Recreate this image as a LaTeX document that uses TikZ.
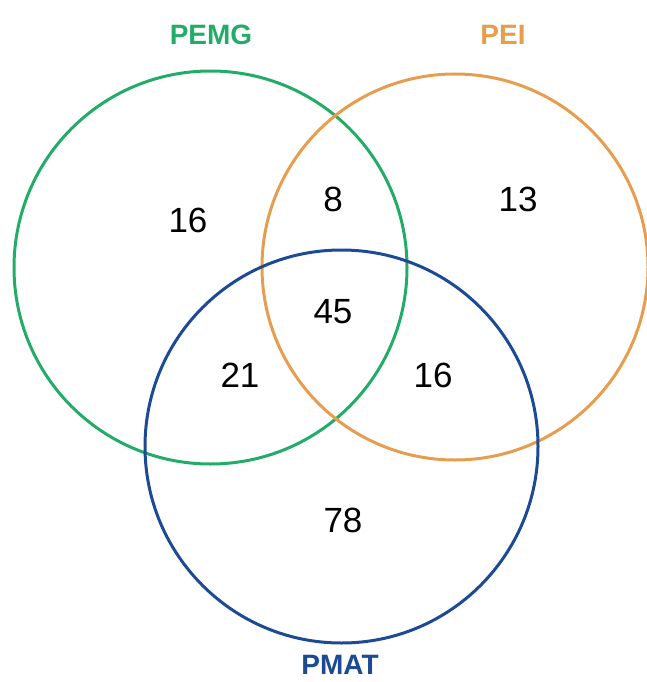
\documentclass[tikz,border=0pt]{standalone}
\usepackage{fontspec}
\setmainfont{Liberation Sans}
\definecolor{cgreen}{RGB}{34,172,104}
\definecolor{corange}{RGB}{230,158,78}
\definecolor{cblue}{RGB}{28,74,148}
\tikzset{
  ring/.style={line width=3pt},
  setlabel/.style={font=\fontsize{28}{32}\selectfont\bfseries, inner sep=0pt},
  count/.style={font=\fontsize{35}{38}\selectfont, inner sep=0pt, text=black}
}
\begin{document}
\begin{tikzpicture}[x=1pt,y=-1pt]
\useasboundingbox (0,0) rectangle (647,682);
\draw[ring, cgreen] (210.5,267.5) circle[radius=196.5];
\draw[ring, corange] (455,267) circle[radius=193];
\draw[ring, cblue] (341.5,446.5) circle[radius=196.5];
\node[setlabel, text=cgreen] (lpemg) at (211,35) {PEMG};
\node[setlabel, text=corange] (lpei) at (503,35) {PEI};
\node[setlabel, text=cblue] (lpmat) at (340,665) {PMAT};
\node[count] (n1) at (188,220) {16};
\node[count] (n2) at (333,199) {8};
\node[count] (n3) at (518,199) {13};
\node[count] (n4) at (333,312) {45};
\node[count] (n5) at (240,375) {21};
\node[count] (n6) at (433,375) {16};
\node[count] (n7) at (343,520) {78};
\end{tikzpicture}
\end{document}
